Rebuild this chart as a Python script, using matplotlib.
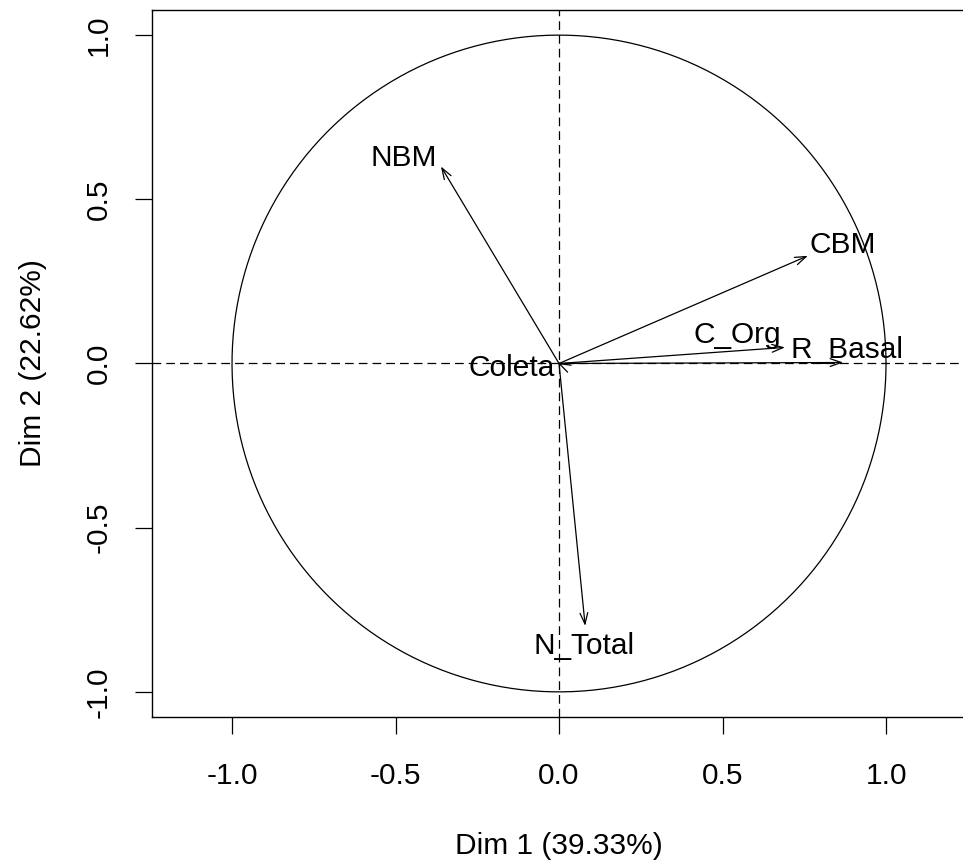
import numpy as np
import matplotlib
matplotlib.use("Agg")
import matplotlib.pyplot as plt

plt.rcParams['font.family'] = ['Liberation Sans', 'DejaVu Sans']

# Data: variable coordinates on Dim 1 / Dim 2
variables = ["NBM", "CBM", "C_Org", "R_Basal", "N_Total", "Coleta"]
dim1 = [-0.361, 0.761, 0.691, 0.869, 0.080, -0.004]
dim2 = [0.600, 0.328, 0.049, 0.003, -0.799, 0.002]
# label offsets (data units) from arrow tips
label_dx = [-0.113, 0.107, -0.147, 0.012, -0.003, -0.140]
label_dy = [0.026, 0.032, 0.038, 0.038, -0.060, -0.017]
xlabel = "Dim 1 (39.33%)"
ylabel = "Dim 2 (22.62%)"
ticks = [-1.0, -0.5, 0.0, 0.5, 1.0]
tick_labels = ["-1.0", "-0.5", "0.0", "0.5", "1.0"]

W, H = 963, 861
fig = plt.figure(figsize=(W / 100, H / 100), dpi=100)
left_px, bottom_px, top_px = 152, 717, 10
xmin, xmax = -1.2447, 1.2447
ppu = 327.0
width_px = (xmax - xmin) * ppu
ymin, ymax = -1.0765, 1.0765
ax = fig.add_axes([left_px / W, (H - bottom_px) / H, width_px / W, (bottom_px - top_px) / H])
ax.set_xlim(xmin, xmax)
ax.set_ylim(ymin, ymax)

FS = 21.5

# circle
t = np.linspace(0, 2 * np.pi, 400)
ax.plot(np.cos(t), np.sin(t), color='black', lw=0.9)
# dashed axes
ax.axhline(0, color='black', lw=0.9, linestyle=(0, (7, 4)))
ax.axvline(0, color='black', lw=0.9, linestyle=(0, (7, 4)))

for name, x, y, dx, dy in zip(variables, dim1, dim2, label_dx, label_dy):
    ax.annotate("", xy=(x, y), xytext=(0, 0),
                arrowprops=dict(arrowstyle="->,head_length=0.8,head_width=0.28",
                                color='black', lw=0.9, shrinkA=0, shrinkB=0))
    ax.text(x + dx, y + dy, name, ha='center', va='center', fontsize=FS, color='black')

ax.set_xticks(ticks)
ax.set_xticklabels(tick_labels)
ax.set_yticks(ticks)
ax.set_yticklabels(tick_labels, rotation=90, va='center')
ax.tick_params(axis='both', direction='out', length=12.5, width=0.9, labelsize=FS)
ax.tick_params(axis='x', pad=20)
ax.tick_params(axis='y', pad=16)
for s in ax.spines.values():
    s.set_linewidth(1.0)
ax.set_xlabel(xlabel, fontsize=FS, labelpad=30)
ax.set_ylabel(ylabel, fontsize=FS, labelpad=27)

fig.savefig("out.png", dpi=100)
